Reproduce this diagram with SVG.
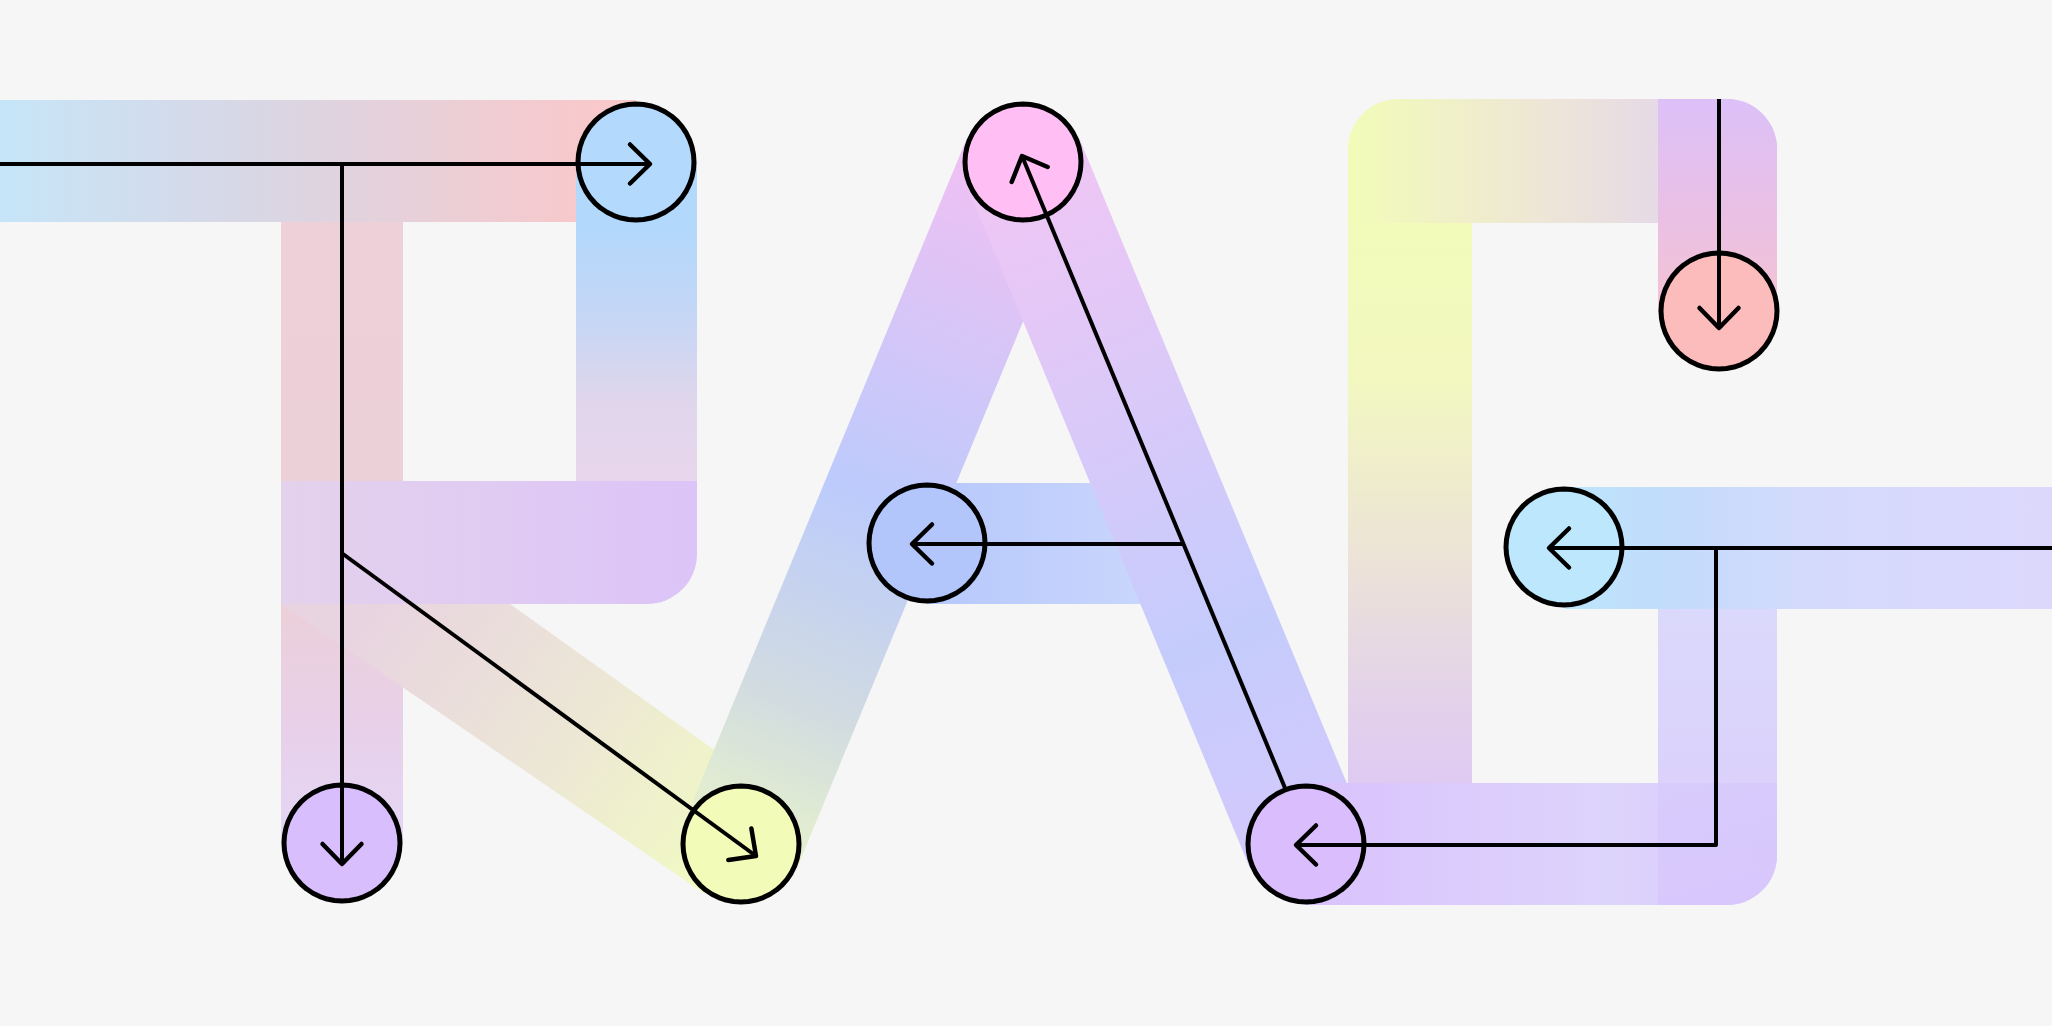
<svg xmlns="http://www.w3.org/2000/svg" xmlns:xlink="http://www.w3.org/1999/xlink" width="2052" height="1026" viewBox="0 0 2052 1026">
<style>
.node{stroke:#000;stroke-width:5;stroke-linejoin:round}
.conn{fill:none;stroke:#000;stroke-width:4;stroke-linejoin:round;marker-end:url(#chev)}
</style>
<defs>
<marker id="chev" markerUnits="userSpaceOnUse" viewBox="-30 -30 60 60" markerWidth="60" markerHeight="60" refX="0" refY="0" orient="auto" overflow="visible">
<path d="M-20,-19.5 L0,0 L-20,19.5" fill="none" stroke="#000" stroke-width="4.5" stroke-linecap="round" stroke-linejoin="round"/>
</marker>
<polygon id="ring" points="58,0 57.5,7.57 56.02,15.01 53.59,22.2 50.23,29 46.01,35.31 41.01,41.01 35.31,46.01 29,50.23 22.2,53.59 15.01,56.02 7.57,57.5 0,58 -7.57,57.5 -15.01,56.02 -22.2,53.59 -29,50.23 -35.31,46.01 -41.01,41.01 -46.01,35.31 -50.23,29 -53.59,22.2 -56.02,15.01 -57.5,7.57 -58,0 -57.5,-7.57 -56.02,-15.01 -53.59,-22.2 -50.23,-29 -46.01,-35.31 -41.01,-41.01 -35.31,-46.01 -29,-50.23 -22.2,-53.59 -15.01,-56.02 -7.57,-57.5 0,-58 7.57,-57.5 15.01,-56.02 22.2,-53.59 29,-50.23 35.31,-46.01 41.01,-41.01 46.01,-35.31 50.23,-29 53.59,-22.2 56.02,-15.01 57.5,-7.57"/>
<linearGradient id="gTop" gradientUnits="userSpaceOnUse" x1="0" y1="0" x2="600" y2="0">
<stop offset="0" stop-color="#c6e5f8"/><stop offset="0.45" stop-color="#dad6e4"/><stop offset="1" stop-color="#f9c8ca"/>
</linearGradient>
<linearGradient id="gRV" gradientUnits="userSpaceOnUse" x1="0" y1="222" x2="0" y2="480">
<stop offset="0" stop-color="#b2d9fc"/><stop offset="0.35" stop-color="#c4d6f6"/><stop offset="0.7" stop-color="#e0d6ec"/><stop offset="1" stop-color="#e8d6ec"/>
</linearGradient>
<linearGradient id="gStem" gradientUnits="userSpaceOnUse" x1="0" y1="222" x2="0" y2="843">
<stop offset="0" stop-color="#edd0d8"/><stop offset="0.6" stop-color="#ecd0d8"/><stop offset="0.8" stop-color="#e8d0e8"/><stop offset="1" stop-color="#e4d6f6"/>
</linearGradient>
<linearGradient id="gMid" gradientUnits="userSpaceOnUse" x1="281" y1="0" x2="697" y2="0">
<stop offset="0" stop-color="#e4d2ec"/><stop offset="1" stop-color="#dcc4f8"/>
</linearGradient>
<linearGradient id="gLeg" gradientUnits="userSpaceOnUse" x1="380" y1="600" x2="740" y2="860">
<stop offset="0" stop-color="#e8d4e0"/><stop offset="0.5" stop-color="#ece6d6"/><stop offset="1" stop-color="#f2fbc2"/>
</linearGradient>
<linearGradient id="gAL" gradientUnits="userSpaceOnUse" x1="1023" y1="162" x2="741" y2="844">
<stop offset="0" stop-color="#f2c0f4"/><stop offset="0.2" stop-color="#dcc4f6"/><stop offset="0.5" stop-color="#bccbfc"/><stop offset="0.78" stop-color="#d0dae2"/><stop offset="1" stop-color="#e6f2cc"/>
</linearGradient>
<linearGradient id="gAR" gradientUnits="userSpaceOnUse" x1="1023" y1="162" x2="1306" y2="844">
<stop offset="0" stop-color="#f0c6f4"/><stop offset="0.45" stop-color="#d4cafa"/><stop offset="0.7" stop-color="#c4ccfc"/><stop offset="1" stop-color="#d4c8fc"/>
</linearGradient>
<linearGradient id="gAC" gradientUnits="userSpaceOnUse" x1="927" y1="0" x2="1180" y2="0">
<stop offset="0" stop-color="#b6c8fc"/><stop offset="1" stop-color="#ccd8fc"/>
</linearGradient>
<linearGradient id="gGT" gradientUnits="userSpaceOnUse" x1="1348" y1="0" x2="1777" y2="0">
<stop offset="0" stop-color="#f2fcb8"/><stop offset="0.45" stop-color="#eee6d6"/><stop offset="0.72" stop-color="#e6dae6"/><stop offset="1" stop-color="#dcc4f6"/>
</linearGradient>
<linearGradient id="gGL" gradientUnits="userSpaceOnUse" x1="0" y1="223" x2="0" y2="843">
<stop offset="0" stop-color="#f2fbba"/><stop offset="0.25" stop-color="#f2f8c0"/><stop offset="0.55" stop-color="#ece2d8"/><stop offset="0.8" stop-color="#e2d0ec"/><stop offset="1" stop-color="#dcc4f8"/>
</linearGradient>
<linearGradient id="gGR1" gradientUnits="userSpaceOnUse" x1="0" y1="99" x2="0" y2="312">
<stop offset="0" stop-color="#dcc0f8"/><stop offset="0.55" stop-color="#eac0e4"/><stop offset="1" stop-color="#f4c4d4"/>
</linearGradient>
<linearGradient id="gGB" gradientUnits="userSpaceOnUse" x1="1306" y1="0" x2="1777" y2="0">
<stop offset="0" stop-color="#dac2fc"/><stop offset="0.65" stop-color="#ddd4fc"/><stop offset="1" stop-color="#d8c8fc"/>
</linearGradient>
<linearGradient id="gGR2" gradientUnits="userSpaceOnUse" x1="0" y1="487" x2="0" y2="905">
<stop offset="0" stop-color="#d4d8fc"/><stop offset="1" stop-color="#d8c6fc"/>
</linearGradient>
<linearGradient id="gGC" gradientUnits="userSpaceOnUse" x1="1565" y1="0" x2="2052" y2="0">
<stop offset="0" stop-color="#bce6fc"/><stop offset="0.2" stop-color="#c2dcfc"/><stop offset="0.5" stop-color="#d4dafc"/><stop offset="1" stop-color="#dcd8fc"/>
</linearGradient>
</defs>
<rect width="2052" height="1026" fill="#f6f6f6"/>
<g id="letter-R">
<rect x="0" y="100" width="636" height="122" fill="url(#gTop)"/>
<rect x="281" y="222" width="122" height="621" fill="url(#gStem)"/>
<rect x="576" y="162" width="121" height="320" fill="url(#gRV)"/>
<path d="M281,481 H697 V554 A50,50 0 0 1 647,604 H281 Z" fill="url(#gMid)"/>
<polygon points="281,604 510,604 776,794 705,894" fill="url(#gLeg)"/>
</g>
<g id="letter-A">
<rect x="927" y="483" width="260" height="121" fill="url(#gAC)"/>
<line x1="1023" y1="162" x2="741" y2="844" stroke="url(#gAL)" stroke-width="122"/>
<line x1="1023" y1="162" x2="1306" y2="844" stroke="url(#gAR)" stroke-width="122"/>
</g>
<g id="letter-G">
<rect x="1348" y="222" width="124" height="621" fill="url(#gGL)"/>
<path d="M1348,223 V149 A50,50 0 0 1 1398,99 H1727 A50,50 0 0 1 1777,149 V223 Z" fill="url(#gGT)"/>
<path d="M1658,99 H1727 A50,50 0 0 1 1777,149 V312 H1658 Z" fill="url(#gGR1)"/>
<path d="M1306,783 H1777 V855 A50,50 0 0 1 1727,905 H1306 Z" fill="url(#gGB)"/>
<path d="M1658,487 H1777 V855 A50,50 0 0 1 1727,905 H1658 Z" fill="url(#gGR2)" opacity="0.85"/>
<rect x="1565" y="487" width="487" height="122" fill="url(#gGC)"/>
</g>
<g id="node-r-top"><use xlink:href="#ring" href="#ring" class="node" x="636" y="162" fill="#b3d9fd"/></g>
<g id="node-r-stem"><use xlink:href="#ring" href="#ring" class="node" x="342" y="843" fill="#d9befd"/></g>
<g id="node-r-leg"><use xlink:href="#ring" href="#ring" class="node" x="741" y="844" fill="#f2fcb8"/></g>
<g id="node-a-top"><use xlink:href="#ring" href="#ring" class="node" x="1023" y="162" fill="#ffbff4"/></g>
<g id="node-a-bar"><use xlink:href="#ring" href="#ring" class="node" x="927" y="543" fill="#b3c6fc"/></g>
<g id="node-a-foot"><use xlink:href="#ring" href="#ring" class="node" x="1306" y="844" fill="#dabdfc"/></g>
<g id="node-g-top"><use xlink:href="#ring" href="#ring" class="node" x="1719" y="311" fill="#fdbcbc"/></g>
<g id="node-g-bar"><use xlink:href="#ring" href="#ring" class="node" x="1564" y="547" fill="#bde7fd"/></g>
<g id="connectors">
<path class="conn" d="M0,164 H650"/>
<path class="conn" d="M342,164 V864"/>
<path class="conn" d="M343,554 L756,856"/>
<path class="conn" d="M1285,788 L1022,156"/>
<path class="conn" d="M1182,544 H912"/>
<path class="conn" d="M2052,548 H1549"/>
<path class="conn" d="M1716,548 V845 H1296"/>
<path class="conn" d="M1719,99 V328"/>
</g>
</svg>
